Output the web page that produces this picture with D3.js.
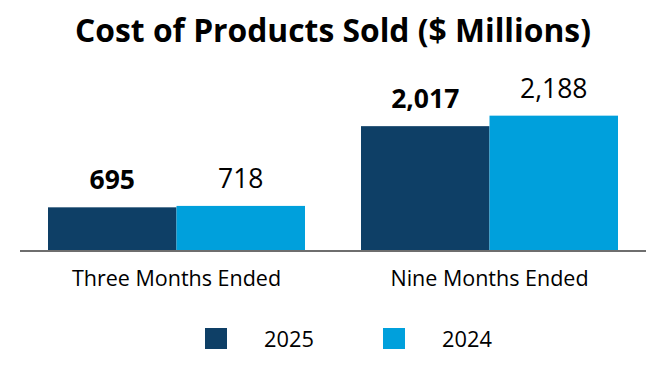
<!DOCTYPE html>
<html><head><meta charset="utf-8">
<script src="https://cdn.jsdelivr.net/npm/d3@7"></script>
<style>body{margin:0;background:#fff}svg{display:block;font-family:"Open Sans",sans-serif}</style>
</head><body><svg id="c" width="666" height="380"></svg>
<script>
const categories = ["Three Months Ended", "Nine Months Ended"];
const seriesNames = ["2025", "2024"];
const values2025 = [695, 2017];
const values2024 = [718, 2188];
const valueLabels2025 = ["695", "2,017"];
const valueLabels2024 = ["718", "2,188"];
const colors = ["#0e3f66", "#00a0dc"];

const svg = d3.select("#c");
const baseY = 250;
const y = d3.scaleLinear().domain([0, 2500]).range([baseY, baseY - 2500 * 0.0614]);
const x0 = d3.scaleBand().domain(categories).range([20, 646]).padding(0);
const x1 = d3.scaleBand().domain(seriesNames).range([28, 285]).padding(0);

svg.append("text").attr("x", 333).attr("y", 42).attr("text-anchor", "middle")
  .attr("font-size", 31.8).attr("font-weight", 700).attr("fill", "#000")
  .text("Cost of Products Sold ($ Millions)");

const data = categories.map((c, i) => ({cat: c, vals: [
  {s: "2025", v: values2025[i], l: valueLabels2025[i], bold: true},
  {s: "2024", v: values2024[i], l: valueLabels2024[i], bold: false}]}));

const g = svg.selectAll("g.grp").data(data).join("g").attr("class", "grp")
  .attr("transform", d => `translate(${x0(d.cat)},0)`);
g.selectAll("rect").data(d => d.vals).join("rect")
  .attr("x", d => x1(d.s)).attr("width", x1.bandwidth())
  .attr("y", d => y(d.v)).attr("height", d => y(0) - y(d.v))
  .attr("fill", (d, i) => colors[i]);
g.selectAll("text.val").data(d => d.vals).join("text").attr("class", "val")
  .attr("x", d => x1(d.s) + x1.bandwidth() / 2).attr("y", d => y(d.v) - 18)
  .attr("text-anchor", "middle").attr("font-size", 26.5)
  .attr("font-weight", d => d.bold ? 700 : 400).attr("fill", "#000")
  .text(d => d.l);

svg.append("line").attr("x1", 20).attr("x2", 646).attr("y1", baseY + 1).attr("y2", baseY + 1)
  .attr("stroke", "#6e6e6e").attr("stroke-width", 2);

svg.selectAll("text.cat").data(categories).join("text").attr("class", "cat")
  .attr("x", d => x0(d) + x0.bandwidth() / 2).attr("y", 286)
  .attr("text-anchor", "middle").attr("font-size", 21.5).attr("fill", "#000").text(d => d);

const legX = [205, 383];
const lg = svg.selectAll("g.leg").data(seriesNames).join("g").attr("class", "leg")
  .attr("transform", (d, i) => `translate(${legX[i]},0)`);
lg.append("rect").attr("x", 0).attr("y", 328).attr("width", 22).attr("height", 21)
  .attr("fill", (d, i) => colors[i]);
lg.append("text").attr("x", 59).attr("y", 347).attr("font-size", 21.8).attr("fill", "#000").text(d => d);
</script></body></html>
